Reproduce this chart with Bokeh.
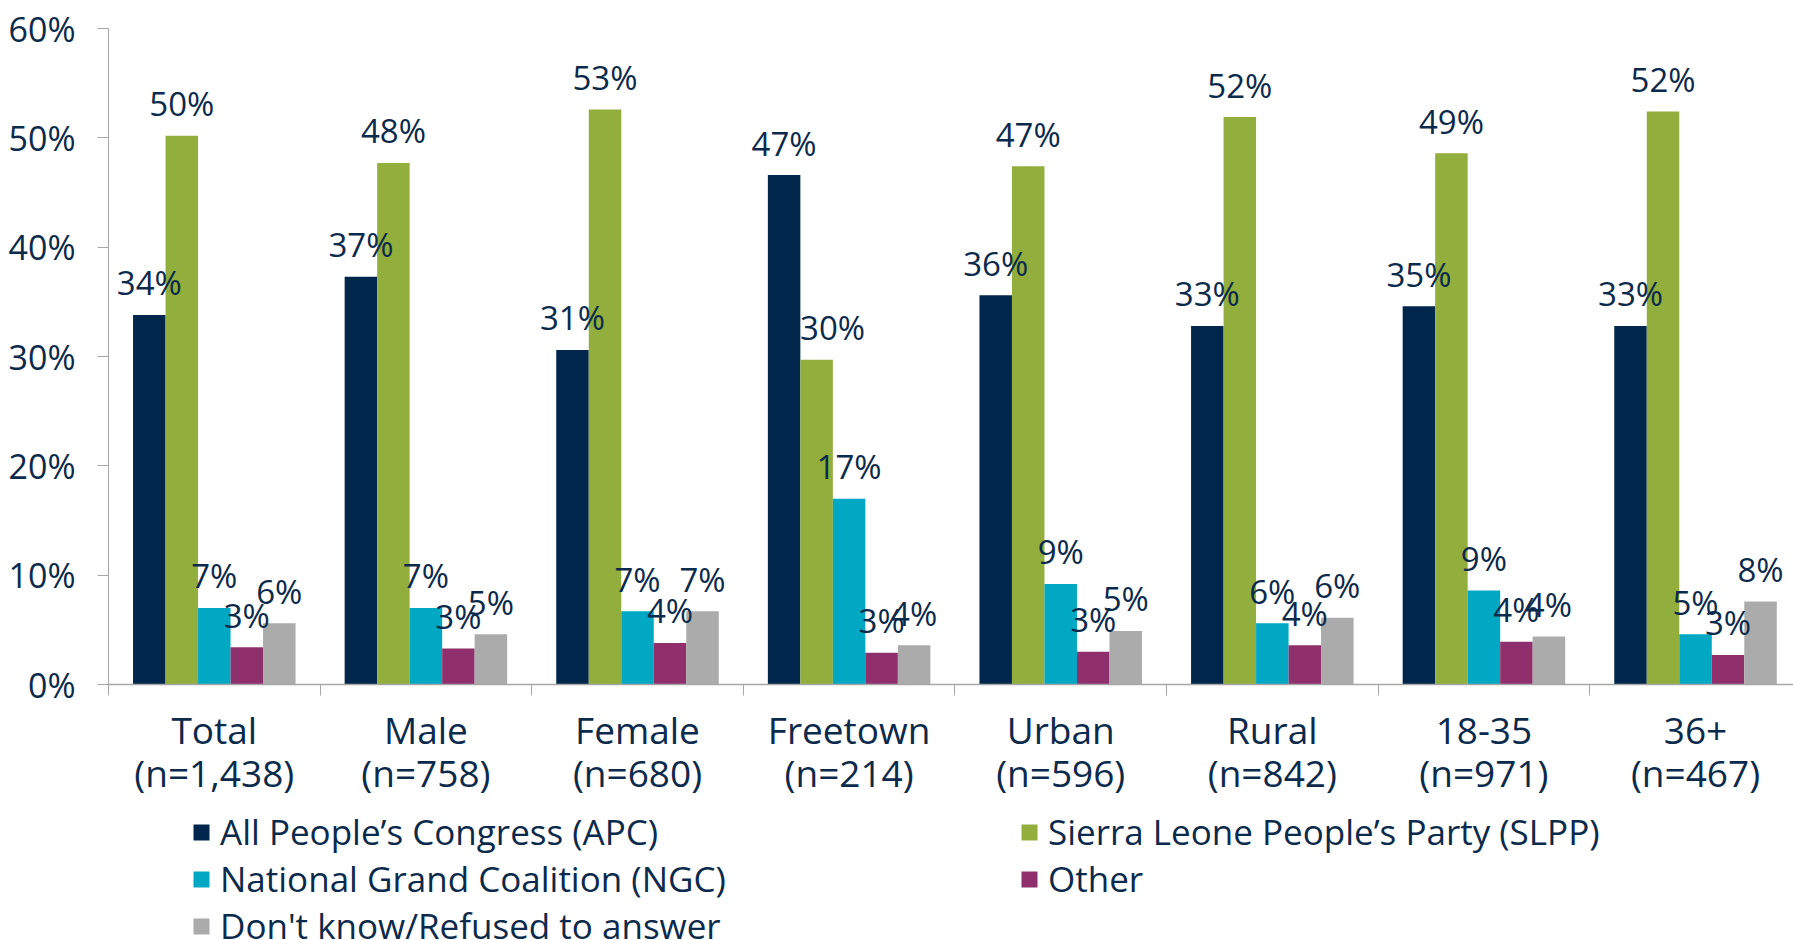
from bokeh.plotting import figure
from bokeh.layouts import column
from bokeh.models import (Range1d, FixedTicker, PrintfTickFormatter, ColumnDataSource,
                          Legend, LegendItem)
from bokeh.transform import dodge
from bokeh.core.properties import value
from bokeh.embed import file_html
from bokeh.resources import INLINE

categories = ["Total", "Male", "Female", "Freetown", "Urban", "Rural", "18-35", "36+"]
sample_sizes = ["1,438", "758", "680", "214", "596", "842", "971", "467"]

series_names = ["All People\u2019s Congress (APC)", "Sierra Leone People\u2019s Party (SLPP)",
                "National Grand Coalition (NGC)", "Other", "Don't know/Refused to answer"]
apc = [33.8, 37.3, 30.6, 46.6, 35.6, 32.8, 34.6, 32.8]
slpp = [50.2, 47.7, 52.6, 29.7, 47.4, 51.9, 48.6, 52.4]
ngc = [7.0, 7.0, 6.7, 17.0, 9.2, 5.6, 8.6, 4.6]
other = [3.4, 3.3, 3.8, 2.9, 3.0, 3.6, 3.9, 2.7]
dont_know = [5.6, 4.6, 6.7, 3.6, 4.9, 6.1, 4.4, 7.6]
y_ticks = [0, 10, 20, 30, 40, 50, 60]

colors = ["#00264B", "#92AE3D", "#00A8C3", "#8F306C", "#ABABAB"]
TEXT = "#0C2A4B"
AXIS = "#A6A6A6"
FONT = "Open Sans"

series = [apc, slpp, ngc, other, dont_know]
keys = ["apc", "slpp", "ngc", "other", "dk"]

data = {"x": [i + 0.5 for i in range(len(categories))]}
for j, (k, s) in enumerate(zip(keys, series)):
    data[k] = s
    data[k + "_lbl"] = ["%d%%" % int(v + 0.5) for v in s]
    # SLPP label is nudged right when the dark APC bar next to it is taller
    if j == 1:
        data[k + "_dx"] = [16 if a > v else 0 for a, v in zip(apc, s)]
    else:
        data[k + "_dx"] = [0] * len(s)
source = ColumnDataSource(data)

p = figure(width=1793, height=800, output_backend="svg", toolbar_location=None,
           x_range=Range1d(0, 7.963), y_range=Range1d(0, 60),
           min_border_left=108, min_border_right=0, min_border_top=28, min_border_bottom=114)
p.outline_line_color = None
p.xgrid.visible = False
p.ygrid.visible = False
p.background_fill_color = "white"
p.border_fill_color = "white"

bw = 0.1536
for i, (k, c) in enumerate(zip(keys, colors)):
    off = (i - 2) * bw
    p.vbar(x=dodge("x", off), top=k, width=bw, bottom=0, source=source,
           fill_color=c, line_color=None)
for i, k in enumerate(keys):
    off = (i - 2) * bw
    p.text(x=dodge("x", off), y=k, text=k + "_lbl", source=source,
           text_align="center", text_baseline="alphabetic", y_offset=-32, x_offset=k + "_dx",
           text_font=value(FONT), text_font_size="33px", text_color=TEXT)

# y axis
yax = p.yaxis[0]
yax.ticker = FixedTicker(ticks=y_ticks)
yax.formatter = PrintfTickFormatter(format="%d%%")
yax.axis_line_color = AXIS
yax.major_tick_line_color = AXIS
yax.major_tick_out = 11
yax.major_tick_in = 0
yax.minor_tick_line_color = None
yax.major_label_text_font = FONT
yax.major_label_text_font_size = "34px"
yax.major_label_text_color = TEXT
yax.major_label_standoff = 22

# x axis
xax = p.xaxis[0]
centers = [i + 0.5 for i in range(len(categories))]
bounds = [float(i) for i in range(len(categories) + 1)]
xax.ticker = FixedTicker(ticks=centers, minor_ticks=bounds)
xax.major_label_overrides = {c: "%s\n(n=%s)" % (cat, n)
                             for c, cat, n in zip(centers, categories, sample_sizes)}
xax.axis_line_color = AXIS
xax.axis_line_width = 1.5
xax.major_tick_line_color = None
xax.major_tick_out = 0
xax.major_tick_in = 0
xax.minor_tick_line_color = AXIS
xax.minor_tick_out = 11
xax.minor_tick_in = 0
xax.major_label_text_font = FONT
xax.major_label_text_font_size = "37px"
xax.major_label_text_color = TEXT
xax.major_label_text_line_height = 0.85
xax.major_label_standoff = 8

# legend strip below the chart (swatch renderers have zero height)
lg = figure(width=1793, height=140, output_backend="svg", toolbar_location=None,
            x_range=Range1d(0, 1), y_range=Range1d(0, 1), min_border=0,
            min_border_left=108, x_axis_location=None, y_axis_location=None)
lg.xgrid.visible = False
lg.ygrid.visible = False
lg.outline_line_color = None
swatches = [lg.vbar(x=[0.5], top=[0], bottom=[0], width=0.001, fill_color=c, line_color=None)
            for c in colors]

def make_legend(idx, loc):
    return Legend(items=[LegendItem(label=series_names[j], renderers=[swatches[j]]) for j in idx],
                  location=loc, orientation="vertical", padding=0, margin=0, spacing=0,
                  border_line_color=None, background_fill_alpha=0,
                  glyph_width=20, glyph_height=20, label_standoff=9,
                  label_text_font=FONT, label_text_font_size="35px",
                  label_text_color=TEXT)

lg.add_layout(make_legend([0, 2, 4], (83, -9)), "center")
lg.add_layout(make_legend([1, 3], (911, 38)), "center")

layout = column(p, lg, spacing=0)
open("out.html", "w").write(file_html(layout, INLINE))
